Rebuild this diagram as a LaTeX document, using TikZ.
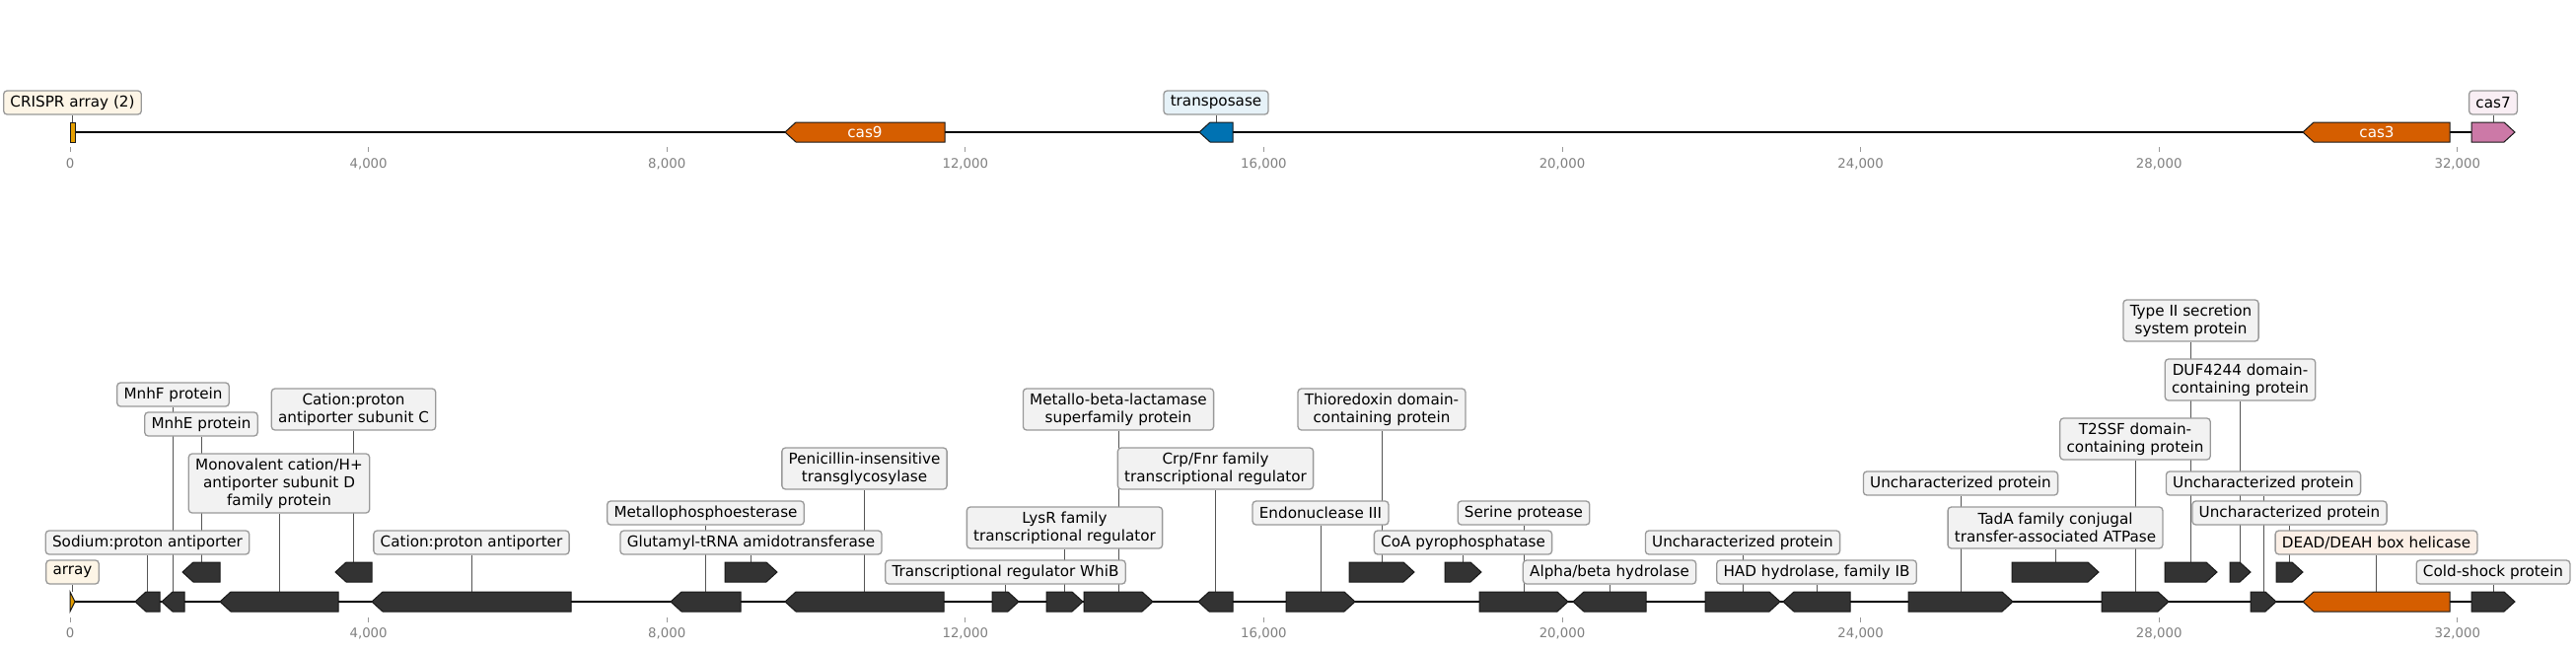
\documentclass[tikz,border=0pt]{standalone}
\usepackage{fontspec}
\setmainfont{DejaVu Sans}
\definecolor{genedark}{HTML}{333333}
\definecolor{casorange}{HTML}{D55E00}
\definecolor{casblue}{HTML}{0072B2}
\definecolor{caspink}{HTML}{CC79A7}
\definecolor{casgold}{HTML}{E69F00}
\definecolor{labfill}{HTML}{F2F2F2}
\definecolor{labborder}{HTML}{999999}
\definecolor{goldtint}{HTML}{FDF5E6}
\definecolor{bluetint}{HTML}{E6F2F8}
\definecolor{pinktint}{HTML}{F9EEF4}
\definecolor{orangetint}{HTML}{FBEFE6}
\definecolor{connc}{HTML}{555555}
\definecolor{tickc}{HTML}{999999}
\definecolor{ticktext}{HTML}{808080}
\newcommand\labfont{\fontsize{15.2}{18}\selectfont}
\newcommand\tickfont{\fontsize{13.3}{16}\selectfont}
\pgfdeclarelayer{back}
\pgfsetlayers{back,main}
% right-pointing gene: name, x1, x2, yc, fill
\newcommand\geneR[5]{%
  \pgfmathsetmacro\gheadlen{min(11,#3-#2)}%
  \filldraw[gene, fill=#5] (#2,#4-10) -- ({#3-\gheadlen},#4-10) -- (#3,#4) -- ({#3-\gheadlen},#4+10) -- (#2,#4+10) -- cycle;%
  \coordinate (#1) at ({(#2+#3)/2},#4-10);%
}
% left-pointing gene: name, x1, x2, yc, fill
\newcommand\geneL[5]{%
  \pgfmathsetmacro\gheadlen{min(11,#3-#2)}%
  \filldraw[gene, fill=#5] (#3,#4-10) -- ({#2+\gheadlen},#4-10) -- (#2,#4) -- ({#2+\gheadlen},#4+10) -- (#3,#4+10) -- cycle;%
  \coordinate (#1) at ({(#2+#3)/2},#4-10);%
}
\tikzset{
  gene/.style={draw=black!90, line width=1pt},
  lab/.style={draw=labborder, fill=labfill, line width=1.3pt, rounded corners=3.5pt,
    inner xsep=6.8pt, inner ysep=0pt, align=center, font=\labfont, text=black},
  labA/.style={lab, minimum height=24pt},
  labB/.style={lab, minimum height=42pt},
  labC/.style={lab, minimum height=60pt},
  conn/.style={draw=connc, line width=1pt},
  track/.style={draw=black, line width=2.2pt},
  tickmark/.style={draw=tickc, line width=1pt},
  ticklab/.style={font=\tickfont, text=ticktext, inner sep=0pt},
  genetext/.style={font=\labfont, text=white, inner sep=0pt},
}
\begin{document}
\begin{tikzpicture}[x=1pt,y=-1pt]
\useasboundingbox (0,0) rectangle (2612,659);

% ---------- backbones ----------
\begin{pgfonlayer}{back}
\draw[track] (71,134) -- (2550,134);
\draw[track] (71,610) -- (2550,610);
\end{pgfonlayer}

% ---------- ticks ----------
\foreach \kb/\txt in {0/0,4/{4,000},8/{8,000},12/{12,000},16/{16,000},20/{20,000},24/{24,000},28/{28,000},32/{32,000}}{
  \pgfmathsetmacro\tx{71+\kb*75.65}
  \draw[tickmark] (\tx,149) -- (\tx,154);
  \node[ticklab] at (\tx,166) {\txt};
  \draw[tickmark] (\tx,626) -- (\tx,631);
  \node[ticklab] at (\tx,642) {\txt};
}

% ---------- top track genes ----------
\filldraw[gene, fill=casgold] (71,124) rectangle (76,144);
\coordinate (tarr) at (73.5,124);
\geneL{tcas9}{796}{958}{134}{casorange}
\node[genetext] (tcas9t) at (877,134) {cas9};
\geneL{ttrans}{1216}{1250}{134}{casblue}
\geneL{tcas3}{2335}{2484}{134}{casorange}
\node[genetext] (tcas3t) at (2410,134) {cas3};
\geneR{tcas7}{2506}{2550}{134}{caspink}

% ---------- bottom track genes (main row) ----------
\geneR{barr}{71}{76}{610}{casgold}
\geneL{g1}{137}{162}{610}{genedark}
\geneL{g2}{164}{187}{610}{genedark}
\geneL{g3}{223}{343}{610}{genedark}
\geneL{g4}{377}{579}{610}{genedark}
\geneL{g5}{680}{751}{610}{genedark}
\geneL{g6}{796}{957}{610}{genedark}
\geneR{g7}{1006}{1033}{610}{genedark}
\geneR{g8}{1061}{1098}{610}{genedark}
\geneR{g9}{1099}{1169}{610}{genedark}
\geneL{g10}{1215}{1250}{610}{genedark}
\geneR{g11}{1304}{1374}{610}{genedark}
\geneR{g12}{1500}{1590}{610}{genedark}
\geneL{g13}{1595}{1669}{610}{genedark}
\geneR{g14}{1729}{1805}{610}{genedark}
\geneL{g15}{1808}{1876}{610}{genedark}
\geneR{g16}{1935}{2041}{610}{genedark}
\geneR{g17}{2131}{2199}{610}{genedark}
\geneR{g18}{2282}{2308}{610}{genedark}
\geneL{g19}{2335}{2484}{610}{casorange}
\geneR{g20}{2506}{2550}{610}{genedark}

% ---------- bottom track genes (second row) ----------
\geneL{ra}{185}{223}{580}{genedark}
\geneL{rb}{340}{377}{580}{genedark}
\geneR{rc}{735}{788}{580}{genedark}
\geneR{rd}{1368}{1434}{580}{genedark}
\geneR{re}{1465}{1502}{580}{genedark}
\geneR{rf}{2040}{2128}{580}{genedark}
\geneR{rg}{2195}{2248}{580}{genedark}
\geneR{rh}{2261}{2282}{580}{genedark}
\geneR{ri}{2308}{2335}{580}{genedark}

% ---------- top labels ----------
\node[labA, fill=goldtint] (ltarr) at (73.5,104) {CRISPR array (2)};
\node[labA, fill=bluetint] (lttrans) at (1233,104) {transposase};
\node[labA, fill=pinktint] (ltcas7) at (2528,104) {cas7};

% ---------- bottom labels ----------
\node[labA, fill=goldtint] (lbarr) at (73.5,580) {array};
\node[labA] (l1) at (149.5,550) {Sodium:proton antiporter};
\node[labA] (l2) at (175.5,400) {MnhF protein};
\node[labA] (la) at (204,430) {MnhE protein};
\node[labC] (l3) at (283,490) {Monovalent cation/H+\\antiporter subunit D\\family protein};
\node[labB] (lb) at (358.5,415) {Cation:proton\\antiporter subunit C};
\node[labA] (l4) at (478,550) {Cation:proton antiporter};
\node[labA] (l5) at (715.5,520) {Metallophosphoesterase};
\node[labA] (lc) at (761.5,550) {Glutamyl-tRNA amidotransferase};
\node[labB] (l6) at (876.5,475) {Penicillin-insensitive\\transglycosylase};
\node[labA] (l7) at (1019.5,580) {Transcriptional regulator WhiB};
\node[labB] (l8) at (1079.5,535) {LysR family\\transcriptional regulator};
\node[labB] (l9) at (1134,415) {Metallo-beta-lactamase\\superfamily protein};
\node[labB] (l10) at (1232.5,475) {Crp/Fnr family\\transcriptional regulator};
\node[labA] (l11) at (1339,520) {Endonuclease III};
\node[labB] (ld) at (1401,415) {Thioredoxin domain-\\containing protein};
\node[labA] (l12) at (1545,520) {Serine protease};
\node[labA] (le) at (1483.5,550) {CoA pyrophosphatase};
\node[labA] (l13) at (1632,580) {Alpha/beta hydrolase};
\node[labA] (l14) at (1767,550) {Uncharacterized protein};
\node[labA] (l15) at (1842,580) {HAD hydrolase, family IB};
\node[labA] (l16) at (1988,490) {Uncharacterized protein};
\node[labB] (lf) at (2084,535) {TadA family conjugal\\transfer-associated ATPase};
\node[labB] (l17) at (2165,445) {T2SSF domain-\\containing protein};
\node[labB] (lg) at (2221.5,325) {Type II secretion\\system protein};
\node[labB] (lh) at (2271.5,385) {DUF4244 domain-\\containing protein};
\node[labA] (l18) at (2295,490) {Uncharacterized protein};
\node[labA] (li) at (2321.5,520) {Uncharacterized protein};
\node[labA, fill=orangetint] (l19) at (2409.5,550) {DEAD/DEAH box helicase};
\node[labA] (l20) at (2528,580) {Cold-shock protein};

% ---------- connectors ----------
\begin{pgfonlayer}{back}
\foreach \g/\l in {tarr/ltarr, ttrans/lttrans, tcas7/ltcas7, barr/lbarr,
  g1/l1, g2/l2, ra/la, g3/l3, rb/lb, g4/l4, g5/l5, rc/lc, g6/l6, g7/l7, g8/l8,
  g9/l9, g10/l10, g11/l11, rd/ld, g12/l12, re/le, g13/l13, g14/l14, g15/l15,
  g16/l16, rf/lf, g17/l17, rg/lg, rh/lh, g18/l18, ri/li, g19/l19, g20/l20}{
  \draw[conn] (\g) -- (\l.south);
}
\end{pgfonlayer}
\end{tikzpicture}
\end{document}
